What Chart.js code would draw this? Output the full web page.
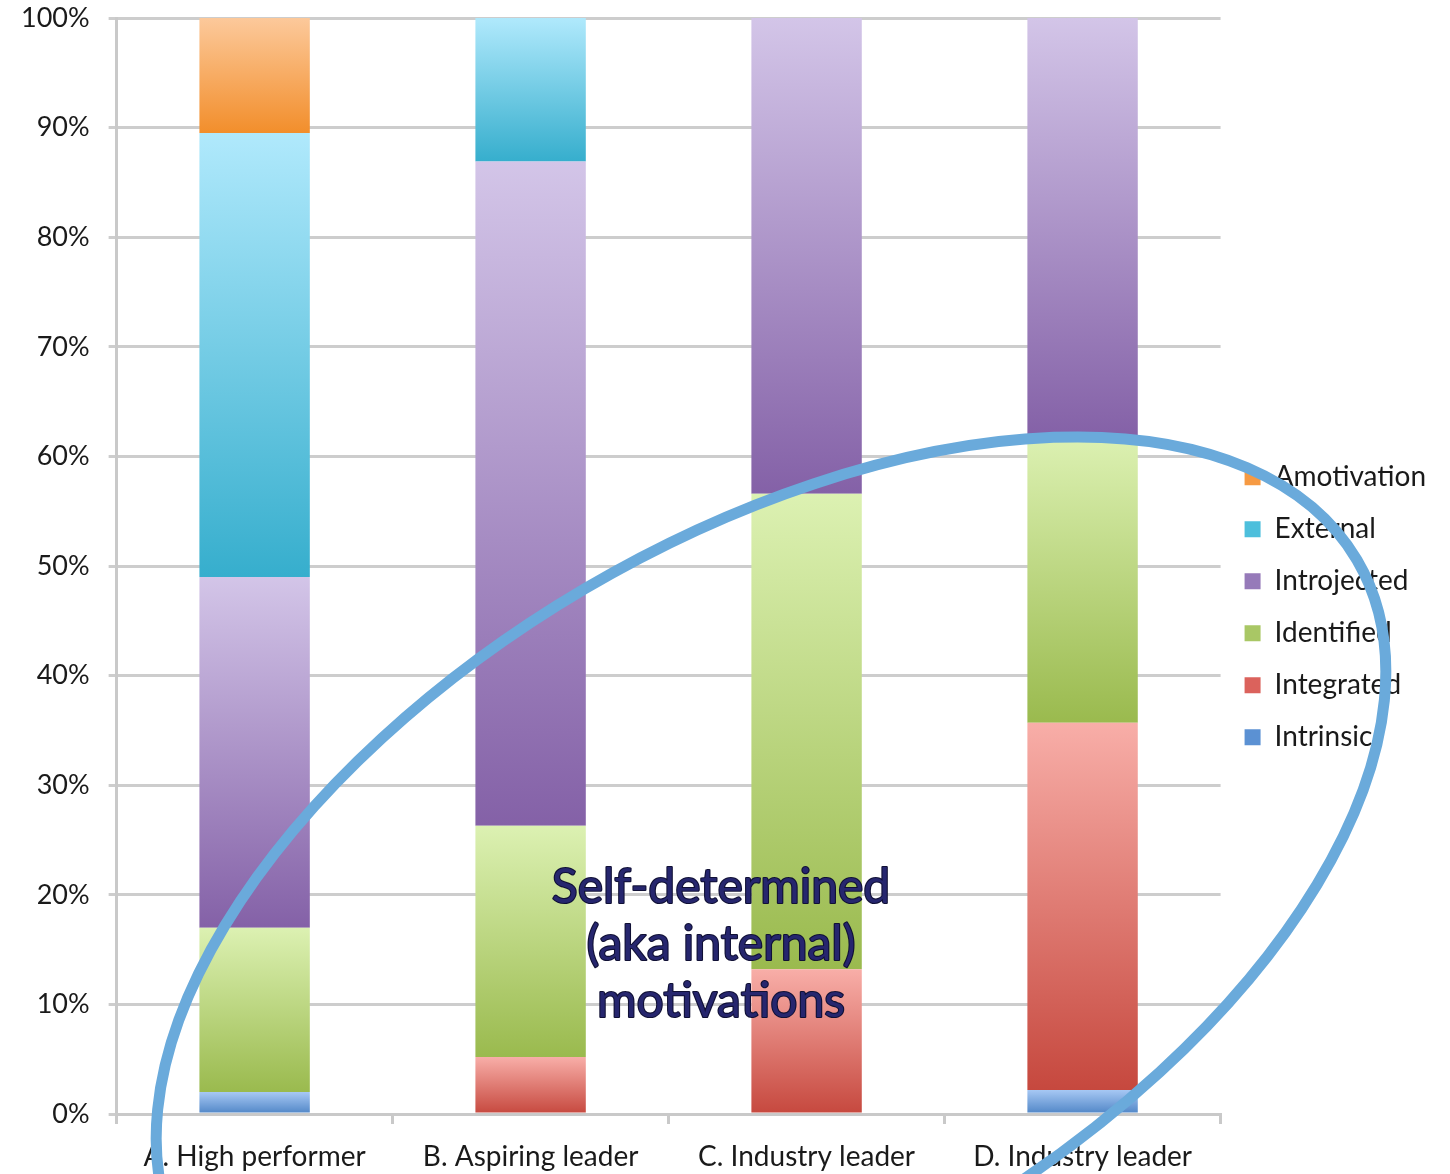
<!DOCTYPE html>
<html>
<head>
<meta charset="utf-8">
<title>Motivation types by group</title>
<script src="https://cdn.jsdelivr.net/npm/chart.js@4.4.1/dist/chart.umd.min.js"></script>
<style>
  html, body { margin: 0; padding: 0; background: #fff; }
  canvas { display: block; }
</style>
</head>
<body>
<canvas id="chart" width="1450" height="1174"></canvas>
<script>
const categories = ['A. High performer', 'B. Aspiring leader', 'C. Industry leader', 'D. Industry leader'];

// share of each motivation type (%), bottom of the stack first
const intrinsic   = [2.0,  0,    0,    2.2];
const integrated  = [0,    5.2,  13.2, 33.5];
const identified  = [15.0, 21.1, 43.4, 26.1];
const introjected = [32.0, 60.6, 43.4, 38.2];
const external    = [40.5, 13.1, 0,    0];
const amotivation = [10.5, 0,    0,    0];

const seriesNames = ['Intrinsic', 'Integrated', 'Identified', 'Introjected', 'External', 'Amotivation'];
const yTicks = [0, 10, 20, 30, 40, 50, 60, 70, 80, 90, 100];
const noteLines = ['Self-determined', '(aka internal)', 'motivations'];

const FONT = 'Lato, "Open Sans", sans-serif';

// [light top, dark bottom, legend swatch]
const palette = {
  Intrinsic:   ['#a7c8f4', '#4f85c6', '#5b91d3'],
  Integrated:  ['#f8aea8', '#c6483e', '#db625c'],
  Identified:  ['#dcf1b2', '#9aba4e', '#a9c765'],
  Introjected: ['#d3c5e8', '#8461a7', '#967ab9'],
  External:    ['#b0e9fc', '#36aecd', '#4dbfdc'],
  Amotivation: ['#fcc99b', '#f28e2b', '#f69a43']
};

const seriesData = [intrinsic, integrated, identified, introjected, external, amotivation];

function barFill(name) {
  const [light, dark, swatch] = palette[name];
  return (ctx) => {
    if (ctx.type !== 'data') return swatch;
    const chart = ctx.chart;
    const y = chart.scales.y;
    if (!y || !chart.chartArea) return swatch;
    let below = 0;
    for (let d = 0; d < ctx.datasetIndex; d++) below += seriesData[d][ctx.dataIndex];
    const above = below + seriesData[ctx.datasetIndex][ctx.dataIndex];
    const top = y.getPixelForValue(above);
    const bottom = y.getPixelForValue(below);
    if (!isFinite(top) || !isFinite(bottom) || top === bottom) return swatch;
    const g = chart.ctx.createLinearGradient(0, top, 0, bottom);
    g.addColorStop(0, light);
    g.addColorStop(1, dark);
    return g;
  };
}

const datasets = seriesNames.map((name, i) => ({
  label: name,
  data: seriesData[i],
  backgroundColor: barFill(name),
  borderWidth: 0,
  categoryPercentage: 1,
  barPercentage: 0.4
}));

// hand-drawn ellipse and caption on top of the chart
const overlay = {
  id: 'overlay',
  afterDraw(chart) {
    const c = chart.ctx;
    c.save();
    c.font = '48px ' + FONT;
    c.textAlign = 'center';
    c.textBaseline = 'alphabetic';
    c.lineJoin = 'round';
    c.lineWidth = 2.2;
    c.strokeStyle = '#101035';
    c.fillStyle = '#26266e';
    noteLines.forEach((t, i) => {
      const ty = 903 + i * 57;
      c.strokeText(t, 721, ty);
      c.fillText(t, 721, ty);
    });

    c.beginPath();
    c.ellipse(771, 905, 680, 367, -30.5 * Math.PI / 180, 0, Math.PI * 2);
    c.lineWidth = 11;
    c.strokeStyle = '#6aaadb';
    c.stroke();
    c.restore();
  }
};

new Chart(document.getElementById('chart'), {
  type: 'bar',
  data: { labels: categories, datasets },
  plugins: [overlay],
  options: {
    responsive: false,
    animation: false,
    layout: { padding: { top: 0, right: 14, bottom: 0, left: 2 } },
    plugins: {
      legend: {
        position: 'right',
        reverse: true,
        title: { display: true, text: '', padding: { top: 26, bottom: 0 }, font: { size: 12 } },
        labels: {
          boxWidth: 16,
          boxHeight: 16,
          padding: 24,
          color: '#1a1a1a',
          font: { family: FONT, size: 28 },
          generateLabels: (chart) =>
            Chart.defaults.plugins.legend.labels.generateLabels(chart).map(item => ({
              ...item,
              fillStyle: palette[item.text][2],
              strokeStyle: palette[item.text][2],
              lineWidth: 0
            }))
        }
      },
      tooltip: { enabled: false }
    },
    scales: {
      x: {
        stacked: true,
        afterFit: (axis) => { axis.height = 60; axis.paddingBottom = 0; },
        grid: {
          offset: true,
          drawOnChartArea: false,
          drawTicks: true,
          tickLength: 10,
          color: '#c9c9c9',
          lineWidth: 3
        },
        border: { display: true, color: '#c9c9c9', width: 3 },
        ticks: {
          color: '#1a1a1a',
          padding: 16,
          maxRotation: 0,
          font: { family: FONT, size: 28 }
        }
      },
      y: {
        stacked: true,
        min: 0,
        max: 100,
        afterBuildTicks: (axis) => { axis.ticks = yTicks.map(v => ({ value: v })); },
        afterFit: (axis) => { axis.paddingTop = 18; axis.paddingBottom = 0; },
        grid: {
          color: '#cdcdcd',
          lineWidth: 3,
          tickLength: 8
        },
        border: { display: true, color: '#c9c9c9', width: 3 },
        ticks: {
          color: '#1a1a1a',
          padding: 19,
          font: { family: FONT, size: 27 },
          callback: (v) => v + '%'
        }
      }
    }
  }
});
</script>
</body>
</html>
